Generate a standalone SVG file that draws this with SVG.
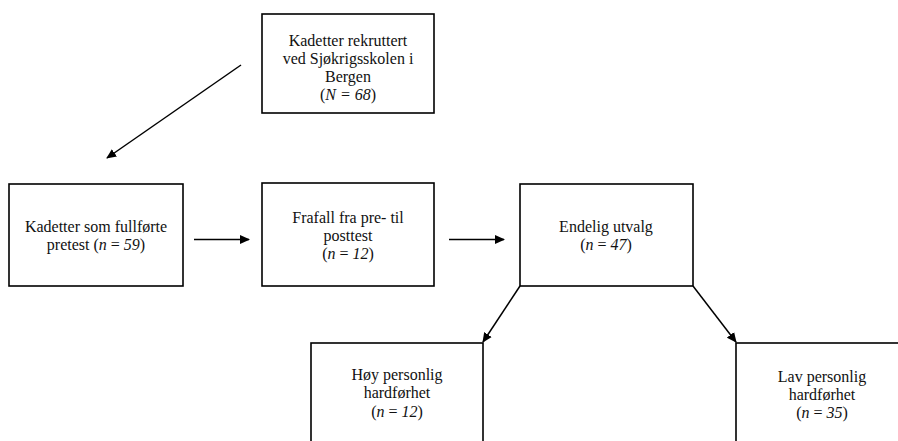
<svg xmlns="http://www.w3.org/2000/svg" width="898" height="441" viewBox="0 0 898 441">
<style>
.box{fill:#fff;stroke:#000;stroke-width:1.6}
.t{font-family:'Liberation Serif','Times New Roman',serif;font-size:16px;fill:#111;text-anchor:middle}
.i{font-style:italic}
.c{stroke:#000;stroke-width:1.5;fill:none;marker-end:url(#ah)}
</style>
<defs>
<marker id="ah" viewBox="0 0 10 10" refX="9" refY="5" markerWidth="10" markerHeight="10" markerUnits="userSpaceOnUse" orient="auto">
<path d="M0,0.5 L10,5 L0,9.5 z" fill="#000"/>
</marker>
</defs>
<rect width="898" height="441" fill="#fff"/>
<g id="connectors">
<line class="c" x1="241" y1="65" x2="107" y2="158"/>
<line class="c" x1="194" y1="239.5" x2="249" y2="239.5"/>
<line class="c" x1="449" y1="239.5" x2="504" y2="239.5"/>
<line class="c" x1="520" y1="286" x2="483" y2="342"/>
<line class="c" x1="693" y1="286" x2="736" y2="342"/>
</g>
<g id="n_top">
<rect class="box" x="262" y="14" width="172" height="99"/>
<text class="t" x="348" y="46">Kadetter rekruttert</text>
<text class="t" x="348" y="64">ved Sjøkrigsskolen i</text>
<text class="t" x="348" y="82">Bergen</text>
<text class="t" x="348" y="100">(<tspan class="i">N = 68</tspan>)</text>
</g>
<g id="n_pretest">
<rect class="box" x="9" y="184" width="174" height="102"/>
<text class="t" x="96" y="232">Kadetter som fullførte</text>
<text class="t" x="96" y="250">pretest (<tspan class="i">n</tspan> = <tspan class="i">59</tspan>)</text>
</g>
<g id="n_frafall">
<rect class="box" x="262" y="183" width="172" height="103"/>
<text class="t" x="348" y="223">Frafall fra pre- til</text>
<text class="t" x="348" y="241">posttest</text>
<text class="t" x="348" y="259">(<tspan class="i">n</tspan> = <tspan class="i">12</tspan>)</text>
</g>
<g id="n_endelig">
<rect class="box" x="520" y="184" width="173" height="102"/>
<text class="t" x="606" y="232">Endelig utvalg</text>
<text class="t" x="606" y="250">(<tspan class="i">n</tspan> = <tspan class="i">47</tspan>)</text>
</g>
<g id="n_hoy">
<rect class="box" x="311" y="343" width="172" height="110"/>
<text class="t" x="397" y="380">Høy personlig</text>
<text class="t" x="397" y="398">hardførhet</text>
<text class="t" x="397" y="417">(<tspan class="i">n</tspan> = <tspan class="i">12</tspan>)</text>
</g>
<g id="n_lav">
<rect class="box" x="736" y="343" width="172" height="110"/>
<text class="t" x="822" y="382">Lav personlig</text>
<text class="t" x="822" y="400">hardførhet</text>
<text class="t" x="822" y="418">(<tspan class="i">n</tspan> = <tspan class="i">35</tspan>)</text>
</g>
</svg>
